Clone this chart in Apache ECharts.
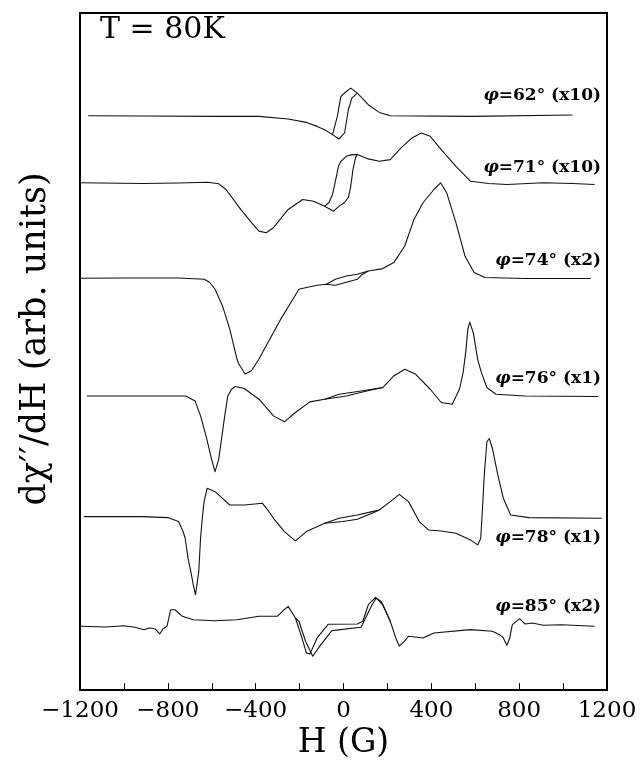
<!DOCTYPE html>
<html><head><meta charset="utf-8">
<script src="https://cdn.jsdelivr.net/npm/echarts@6/dist/echarts.min.js"></script>
<style>html,body{margin:0;padding:0;background:#fff}#c{width:642px;height:765px}</style>
</head><body><div id="c"></div>
<script>
// ---- data (H in gauss, signal in arbitrary units relative to each trace's baseline) ----
const xTicks = [-1200, -800, -400, 0, 400, 800, 1200];
const angles = ['62°', '71°', '74°', '76°', '78°', '85°'];
const gains = ['(x10)', '(x10)', '(x2)', '(x1)', '(x1)', '(x2)'];
const offsets = [576, 509, 413, 295, 174, 64];

const c62Main = [[-1163,0],[-917,-0.3],[-585,-0.7],[-385,-0.7],[-252,-3.3],[-169,-6.7],[-120,-10.7],[-86,-14],[-50,-19],[-28,-0.7],[-12,19.3],[13,24.3],[33,27.7],[63,22.7],[113,11],[163,3.3],[213,0],[578,-0.7],[1043,0.7]];
const c62Loop = [[-50,-19],[-20,-23.3],[5,-17.3],[22,6],[38,17.7],[63,22.7]];

const c71Main = [[-1200,-0.3],[-917,-1],[-751,-0.5],[-618,0.3],[-568,-1.3],[-535,-7],[-468,-27],[-419,-40.3],[-385,-48.7],[-352,-50.3],[-319,-45.3],[-252,-27],[-186,-17],[-136,-18.7],[-86,-23.7],[-45,-28.7],[-20,-23.7],[5,-20],[22,-15],[33,-4],[43,13],[55,25],[63,28],[113,23.7],[163,21.3],[213,23],[262,34.7],[312,44.7],[354,49.7],[395,46.3],[445,33],[512,16.3],[578,1.3],[661,-1],[744,-2],[910,-0.3],[1043,-1],[1143,-2]];
const c71Loop = [[-86,-23.7],[-66,-20],[-50,-12],[-40,-2],[-23,16.3],[-12,21.3],[13,26.3],[38,28],[63,28]];

const c74Main = [[-1199,0],[-1000,0.3],[-751,0.3],[-634,-1],[-610,-4],[-585,-11],[-551,-27.7],[-518,-51],[-485,-81],[-477,-86],[-448,-96],[-419,-92.7],[-385,-81],[-352,-67.7],[-286,-41],[-236,-23],[-203,-11],[-169,-9.3],[-120,-7],[-78,-6],[-37,-7],[13,-4],[63,-1],[80,3],[113,7.3],[179,9.7],[229,15.7],[279,32.3],[321,59],[362,75.7],[412,89],[442,95.7],[470,85.7],[512,55.7],[553,22.3],[595,5.7],[644,0.7],[827,-0.3],[1126,-0.3]];
const c74Loop = [[-78,-6],[-37,-1],[13,2.3],[63,4],[113,7.3]];

const c76Main = [[-1169,0],[-917,0],[-718,0],[-676,-5],[-651,-20],[-626,-40],[-601,-63.3],[-585,-76],[-568,-63.3],[-543,-23.3],[-527,0],[-510,6.7],[-493,9.4],[-452,7.4],[-385,-3.3],[-319,-20],[-269,-26],[-219,-16.6],[-153,-6],[-86,-3.3],[13,0],[96,4.4],[179,8.4],[229,20],[279,26.7],[329,21.7],[395,6.7],[445,-6.6],[495,-8.3],[528,6.7],[545,23.7],[558,46.7],[566,66.7],[575,74],[591,63.4],[611,36.7],[628,23.4],[653,8.4],[694,1.7],[827,0],[1159,-0.6]];
const c76Loop = [[-86,-3.3],[-20,1.7],[80,5],[179,8.4]];

const c78Main = [[-1183,0],[-917,0],[-801,-1],[-751,-5],[-731,-14.7],[-721,-21.7],[-708,-41.7],[-694,-56.7],[-684,-68.4],[-674,-78.4],[-668,-77.7],[-659,-55],[-651,-21.7],[-643,-1.7],[-635,15],[-621,28.3],[-585,25],[-551,18.3],[-518,11.6],[-452,11.6],[-369,13.3],[-344,6.3],[-319,-1.7],[-269,-15],[-219,-24.4],[-169,-15],[-103,-8.4],[-86,-6.7],[-3,-5],[63,-2.7],[130,3.3],[163,6.6],[213,15],[254,22.3],[296,15],[345,-5],[387,-13.4],[445,-14.4],[512,-16.7],[578,-23.4],[611,-28.4],[625,-21.7],[633,8.3],[641,41.6],[653,75],[664,78.3],[678,68.3],[703,41.6],[728,18.3],[761,1.6],[844,-1],[1176,-1.7]];
const c78Loop = [[-86,-6.7],[-20,-1.7],[63,1.6],[130,5],[163,6.6]];

const c85Main = [[-1196,0],[-1083,-0.7],[-1000,0.6],[-950,-1],[-908,-3.4],[-884,-1.7],[-859,-2.4],[-837,-7.7],[-821,-2.4],[-804,0],[-787,16.6],[-767,16.6],[-734,10],[-684,6.6],[-585,5.6],[-485,6.6],[-385,10],[-302,10],[-277,15.3],[-252,20],[-219,8.3],[-194,-8.4],[-169,-26.7],[-153,-27.7],[-120,-11.7],[-70,2],[63,2.3],[88,5],[113,21.6],[146,29],[171,25],[213,5],[238,-11.7],[254,-20],[279,-14.7],[296,-10],[362,-11.7],[412,-6.7],[578,-3.4],[678,-5],[711,-8.4],[728,-11.7],[744,-19],[757,-11.7],[769,1.6],[802,7.6],[827,2.3],[860,3.3],[910,1],[993,1.6],[1143,0]];
const c85Loop = [[-219,8.3],[-203,5],[-173,-15],[-140,-30],[-103,-18.4],[-53,-4.4],[80,-1],[130,21.6],[149,28.3],[179,21.6],[213,5]];

const traces = [[c62Main, c62Loop], [c71Main, c71Loop], [c74Main, c74Loop], [c76Main, c76Loop], [c78Main, c78Loop], [c85Main, c85Loop]];

// ---- chart ----
const chart = echarts.init(document.getElementById('c'), null, {renderer: 'canvas'});
const serif = 'DejaVu Serif';
const series = [];
traces.forEach((pair, i) => {
  pair.forEach((arr, j) => {
    series.push({
      type: 'line', name: angles[i] + (j ? ' b' : ''),
      data: arr.map(p => [p[0], offsets[i] + p[1]]),
      showSymbol: false, symbol: 'none', smooth: false, silent: true,
      lineStyle: {color: '#111', width: 1.1, join: 'round'}, animation: false
    });
  });
});

const labelY = [96, 168, 261, 379, 538, 607];
const graphics = [
  {type: 'text', left: 100, top: 15, style: {text: 'T = 80K', font: '30px "DejaVu Serif"', fill: '#000'}},
  {type: 'text', x: 36, y: 339, rotation: Math.PI / 2,
   style: {text: 'dχ′′/dH (arb. units)', font: '35px "DejaVu Serif"', fill: '#000', align: 'center', verticalAlign: 'middle'}}
];
angles.forEach((a, i) => {
  graphics.push({type: 'text', x: 601, y: labelY[i],
    style: {text: '{i|φ}{n|=' + a + ' ' + gains[i] + '}', align: 'right', verticalAlign: 'middle', fill: '#000',
      rich: {i: {fontFamily: serif, fontStyle: 'italic', fontWeight: 'bold', fontSize: 17}, n: {fontFamily: serif, fontWeight: 'bold', fontSize: 17}}}});
});

chart.setOption({
  animation: false,
  backgroundColor: '#fff',
  grid: {left: 80, right: 35, top: 13, bottom: 73, show: true, borderColor: '#000', borderWidth: 2, backgroundColor: 'transparent'},
  xAxis: {
    type: 'value', min: xTicks[0], max: xTicks[xTicks.length - 1], interval: 400,
    axisLine: {show: true, lineStyle: {color: '#000', width: 2}},
    axisTick: {show: true, inside: true, length: 7, lineStyle: {color: '#000', width: 1}},
    minorTick: {show: true, splitNumber: 2, length: 7, lineStyle: {color: '#000', width: 1}},
    splitLine: {show: false}, minorSplitLine: {show: false},
    axisLabel: {color: '#000', fontFamily: serif, fontSize: 23, margin: 9,
      formatter: v => (v < 0 ? '\u2212' + (-v) : String(v))},
    name: 'H (G)', nameLocation: 'middle', nameGap: 34,
    nameTextStyle: {color: '#000', fontFamily: serif, fontSize: 33}
  },
  yAxis: {
    type: 'value', min: 0, max: 679,
    axisLine: {show: false}, axisTick: {show: false}, axisLabel: {show: false}, splitLine: {show: false}
  },
  graphic: graphics,
  series: series
});
</script></body></html>
